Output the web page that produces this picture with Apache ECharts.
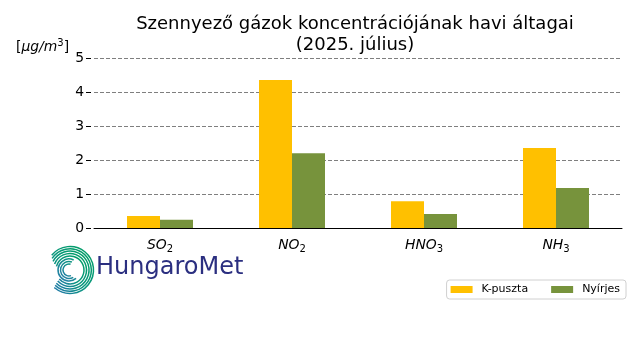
<!DOCTYPE html>
<html><head><meta charset="utf-8">
<script src="https://cdn.jsdelivr.net/npm/echarts@6/dist/echarts.min.js"></script>
<style>html,body{margin:0;padding:0;background:#fff}#c{width:640px;height:360px}</style>
</head><body><div id="c"></div>
<script>
var categories = ['SO2', 'NO2', 'HNO3', 'NH3'];
var seriesNames = ['K-puszta', 'Nyírjes'];
var kpuszta = [0.35, 4.35, 0.79, 2.35];
var nyirjes = [0.24, 2.20, 0.41, 1.18];
var yTicks = [0, 1, 2, 3, 4, 5];

var F = 'DejaVu Sans';
var chart = echarts.init(document.getElementById('c'), null, {renderer: 'canvas'});

// logo arcs
var logoArcs = [];
var cx = 70, cy = 270;
var outer = [14, 16.5, 19, 21.3, 23.5];
outer.forEach(function (r, i) {
  logoArcs.push({
    type: 'arc',
    shape: {cx: cx, cy: cy, r: r, startAngle: (-165 + i * 6) * Math.PI / 180, endAngle: (140 - i * 2) * Math.PI / 180, clockwise: true},
    style: {fill: null, lineWidth: 1.5, stroke: {type: 'linear', x: 1, y: 0, x2: 0, y2: 1, colorStops: [{offset: 0, color: '#00a060'}, {offset: 0.6, color: '#0a9580'}, {offset: 1, color: '#2a6fb8'}]}},
    silent: true
  });
});
var inner = [6, 8.5, 11];
inner.forEach(function (r, i) {
  logoArcs.push({
    type: 'arc',
    shape: {cx: cx - 1, cy: cy, r: r, startAngle: (70 - i * 10) * Math.PI / 180, endAngle: (285 + i * 5) * Math.PI / 180, clockwise: true},
    style: {fill: null, lineWidth: 1.5, stroke: {type: 'linear', x: 1, y: 0, x2: 0, y2: 1, colorStops: [{offset: 0, color: '#0a9a78'}, {offset: 1, color: '#2a7ab0'}]}},
    silent: true
  });
});

chart.setOption({
  animation: false,
  backgroundColor: '#fff',
  title: {
    text: 'Szennyező gázok koncentrációjának havi áltagai\n(2025. július)',
    left: 350, top: 9, textAlign: 'center',
    textStyle: {fontFamily: F, fontSize: 18, fontWeight: 'normal', color: '#000', lineHeight: 21}
  },
  legend: {
    right: 14, top: 280,
    orient: 'horizontal',
    data: seriesNames,
    icon: 'rect',
    itemWidth: 22, itemHeight: 7, itemGap: 23,
    padding: [4, 6, 4, 4],
    borderColor: '#d0d0d0', borderWidth: 1, borderRadius: 3,
    textStyle: {fontFamily: F, fontSize: 11, color: '#000', padding: [0, 0, 0, 4]}
  },
  grid: {left: 94, right: 18, top: 58, bottom: 132},
  xAxis: {
    type: 'category',
    data: categories,
    axisLine: {lineStyle: {color: '#000', width: 1}},
    axisTick: {alignWithLabel: true, length: 4, lineStyle: {color: '#000'}},
    axisLabel: {
      margin: 8,
      formatter: function (v) {
        var m = v.match(/^(.*?)(\d)$/);
        return '{i|' + m[1] + '}{s|' + m[2] + '}';
      },
      rich: {
        i: {fontFamily: F, fontSize: 13.9, fontStyle: 'italic', color: '#000', lineHeight: 18},
        s: {fontFamily: F, fontSize: 10, color: '#000', lineHeight: 10, verticalAlign: 'bottom'}
      }
    }
  },
  yAxis: {
    type: 'value',
    min: yTicks[0], max: yTicks[yTicks.length - 1], interval: 1,
    offset: 3,
    axisLine: {show: false},
    axisTick: {show: true, length: 5, lineStyle: {color: '#000'}},
    axisLabel: {fontFamily: F, fontSize: 13.9, color: '#000', margin: 7},
    splitLine: {show: true, lineStyle: {color: '#7f7f7f', type: [4, 2], width: 1}}
  },
  series: [
    {name: seriesNames[0], type: 'bar', data: kpuszta, barWidth: 33, barGap: '0%', itemStyle: {color: '#FFC000'}},
    {name: seriesNames[1], type: 'bar', data: nyirjes, barWidth: 33, barGap: '0%', itemStyle: {color: '#77933C'}}
  ],
  graphic: [
    {
      type: 'text', left: 16, top: 38,
      style: {
        text: '[{i|μg/m}{sup|3}]',
        fontFamily: F, fontSize: 13.9, fill: '#000',
        rich: {
          i: {fontFamily: F, fontSize: 13.9, fontStyle: 'italic', lineHeight: 18},
          sup: {fontFamily: F, fontSize: 10, lineHeight: 10, verticalAlign: 'top'}
        }
      }
    },
    {
      type: 'text', left: 96, top: 256,
      style: {text: 'HungaroMet', fontFamily: F, fontSize: 24, fill: '#2b2f80'}
    }
  ].concat(logoArcs)
});
</script></body></html>
